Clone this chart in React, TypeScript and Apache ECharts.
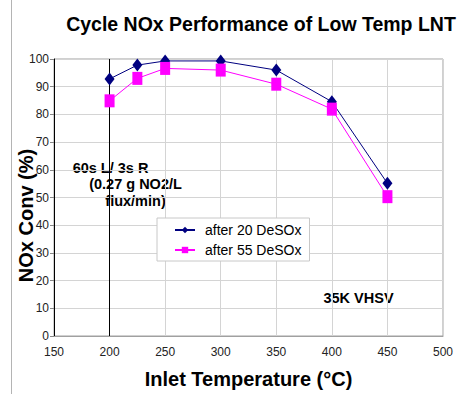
import React, { useEffect, useRef } from "react";
import * as echarts from "echarts";

const temps = [200, 225, 250, 300, 350, 400, 450];
const after20 = [92.8, 97.8, 99.3, 99.3, 96, 84.6, 55.1];
const after55 = [84.9, 93, 96.6, 96, 90.9, 81.9, 50.3];
const seriesNames = ["after 20 DeSOx", "after 55 DeSOx"];
const markTemp = 200;

export default function App() {
  const ref = useRef<HTMLDivElement>(null);
  useEffect(() => {
    if (!ref.current) return;
    const chart = echarts.init(ref.current, undefined, { renderer: "svg" });
    const font = "'Liberation Sans', Arial, sans-serif";
    const note = (text: string, x: number, y: number) => ({
      type: "text",
      x,
      y,
      style: {
        text,
        fontSize: 14.5,
        fontWeight: "bold",
        fontFamily: font,
        fill: "#000",
        align: "center",
        verticalAlign: "middle",
      },
    });
    chart.setOption({
      animation: false,
      textStyle: { fontFamily: font },
      title: {
        text: "Cycle NOx Performance of Low Temp LNT",
        left: 256,
        top: 9,
        textAlign: "center",
        textStyle: { fontSize: 19.5, fontWeight: "bold", color: "#000", fontFamily: font },
      },
      grid: {
        left: 54,
        right: 19,
        top: 59,
        bottom: 58,
        containLabel: false,
        outerBoundsMode: "none",
        show: true,
        borderColor: "#a0a0a0",
        borderWidth: 1,
      },
      legend: {
        orient: "vertical",
        left: 157,
        top: 218,
        backgroundColor: "#fff",
        borderColor: "#c8c8c8",
        borderWidth: 1,
        padding: [5, 8, 4, 17],
        itemGap: 6,
        itemWidth: 20,
        itemHeight: 8,
        textStyle: { fontSize: 14, color: "#000", fontFamily: font, padding: [0, 0, 0, 5] },
        data: seriesNames,
      },
      xAxis: {
        type: "value",
        min: 150,
        max: 500,
        interval: 50,
        name: "Inlet Temperature (°C)",
        nameLocation: "middle",
        nameGap: 33,
        nameMoveOverlap: false,
        nameTextStyle: { fontSize: 20, fontWeight: "bold", color: "#000", fontFamily: font },
        axisLine: { lineStyle: { color: "#a0a0a0" } },
        axisTick: { show: false },
        axisLabel: { fontSize: 12, color: "#222", margin: 10, fontFamily: font },
        splitLine: { lineStyle: { color: "#d4d4d4" } },
      },
      yAxis: {
        type: "value",
        min: 0,
        max: 100,
        interval: 10,
        name: "NOx Conv (%)",
        nameLocation: "middle",
        nameGap: 18,
        nameMoveOverlap: false,
        nameTextStyle: {
          fontSize: 20,
          fontWeight: "bold",
          color: "#000",
          fontFamily: font,
          padding: [0, 36, 0, 0],
        },
        axisLine: { show: true, lineStyle: { color: "#000" } },
        axisTick: { show: true, length: 4, lineStyle: { color: "#888" } },
        axisLabel: { fontSize: 12, color: "#222", margin: 5, fontFamily: font },
        splitLine: { lineStyle: { color: "#d4d4d4" } },
      },
      series: [
        {
          name: seriesNames[0],
          type: "line",
          data: temps.map((t, i) => [t, after20[i]]),
          symbol: "diamond",
          symbolSize: [10, 13],
          lineStyle: { color: "#000080", width: 1 },
          itemStyle: { color: "#000080" },
          z: 3,
          markLine: {
            silent: true,
            symbol: "none",
            label: { show: false },
            lineStyle: { color: "#000", width: 1, type: "solid" },
            data: [{ xAxis: markTemp }],
            z: 1,
          },
        },
        {
          name: seriesNames[1],
          type: "line",
          data: temps.map((t, i) => [t, after55[i]]),
          symbol: "rect",
          symbolSize: [10, 13],
          lineStyle: { color: "#ff00ff", width: 1 },
          itemStyle: { color: "#ff00ff" },
          z: 4,
        },
      ],
      graphic: [
        {
          type: "line",
          shape: { x1: 11.5, y1: 0, x2: 11.5, y2: 394 },
          style: { stroke: "#b4b4b4", lineWidth: 1 },
        },
        note("60s L/ 3s R", 110.5, 168),
        note("(0.27 g NO2/L", 135.5, 184),
        note("flux/min)", 135.5, 201),
        note("35K VHSV", 358.5, 298),
      ],
    });
    return () => chart.dispose();
  }, []);
  return <div ref={ref} style={{ width: 462, height: 394, position: "absolute", left: 0, top: 0 }} />;
}
